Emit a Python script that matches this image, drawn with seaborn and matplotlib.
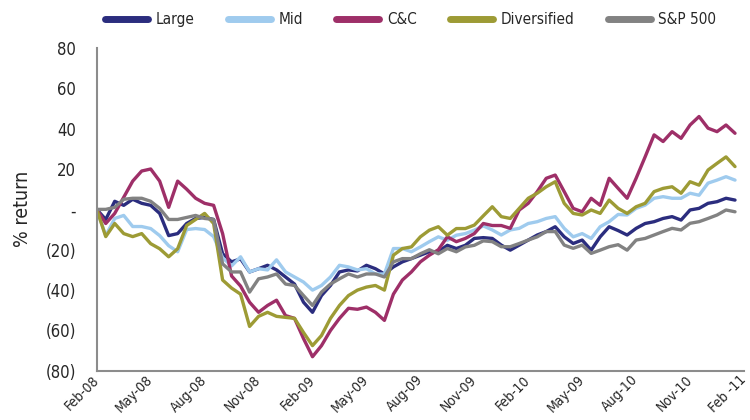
import numpy as np
import pandas as pd
import matplotlib
matplotlib.use("Agg")
import matplotlib.pyplot as plt
import seaborn as sns

# months since Feb-08, half-month steps
months = np.arange(72) * 0.5

large = [0, -5, 4, 2, 5, 3, 2, -2, -13, -12, -7, -4.5, -4, -5,
         -22, -26, -24.5, -31, -29.4, -27.7, -30, -33.5, -37, -46, -51, -42.7,
         -37.7, -31, -30, -30.5, -27.7, -29.4, -32, -28.5, -26, -24.4, -22.7, -21,
         -21, -17.8, -19.4, -17.8, -14.4, -14, -14.4, -17.7, -20.2, -17.7, -15.2, -12.7,
         -11, -8.6, -13.6, -16.9, -15.2, -20.2, -13.6, -8.6, -10.5, -12.7, -9.4, -7,
         -6.1, -4.5, -3.6, -5.3, -0.3, 0.5, 3, 3.8, 5.5, 4.6]
mid = [0, -13, -4.5, -3, -8.5, -8.5, -9.5, -13, -18, -21, -10, -9.5, -10, -13.5,
       -24, -28, -23.5, -31, -29.4, -30, -25, -31, -33.5, -36, -40, -37.7,
       -33.5, -27.7, -28.5, -30, -29.4, -32, -32, -19.4, -19.4, -21, -18.6, -16,
       -13.6, -15.3, -12.8, -12, -10.3, -8.2, -10.2, -12.7, -10.2, -9.4, -7, -6.1,
       -4.5, -3.6, -9.4, -13.6, -12, -14.4, -8.6, -6.1, -2.5, -2.8, 0.5, 2.1,
       5.5, 6.3, 5.5, 5.5, 8, 7, 13, 14.5, 16.2, 14.5]
cc = [0, -7, -2, 6, 14, 19, 20, 14, 1, 14, 10, 5.5, 3, 2,
      -12, -33, -38, -46, -51, -47.6, -45, -52.6, -54, -64, -73, -67.5,
      -60, -54, -49, -49.5, -48.4, -51, -55, -42, -35, -31, -26, -22.7,
      -20, -13.6, -16, -14.4, -12, -7, -8, -8, -9.4, -0.3, 3, 8.8,
      15.4, 17, 8.8, 0.5, -1.2, 5.5, 2, 15.4, 10.4, 5.5, 15.4, 26,
      36.9, 33.6, 38.5, 35.2, 41.8, 46, 40.2, 38.5, 41.8, 37.7]
diversified = [0, -13.5, -7, -12, -13.5, -12, -17, -19.5, -23.5, -19.5, -8, -5, -2, -7,
               -35, -39, -42, -58, -53, -51, -53, -53.5, -54, -61, -67.5, -62.5,
               -54, -47.6, -42.7, -40, -38.5, -37.7, -40, -22.7, -19.4, -18.6, -13.6, -10.3,
               -8.6, -12.8, -9.5, -9.5, -7.8, -3.2, 1.3, -3.6, -4.5, 0.5, 5.5, 8,
               11.2, 13.7, 3, -2, -2.8, -0.3, -2, 4.6, 0.5, -2, 1.3, 3,
               8.8, 10.4, 11.2, 8, 13.7, 12, 19.5, 22.8, 26, 21.2]
sp500 = [0, 0, 1, 5, 5.5, 5.5, 4, 0.5, -5, -5, -4, -3, -4.5, -5,
         -27, -31, -31, -41, -34.4, -33.5, -32, -37, -37.7, -42.7, -47.6, -41,
         -37, -34.4, -32, -33.5, -32, -32, -33.5, -26, -24.4, -24.4, -22, -20,
         -22, -19.4, -21, -18.6, -17.8, -15.6, -16, -18.5, -18.5, -16.9, -15.2, -13.6,
         -11, -11, -17.7, -19.3, -17.7, -21.8, -20.2, -18.5, -17.5, -20.2, -15.2, -14.4,
         -12.7, -11, -9.4, -10.2, -6.9, -6.1, -4.5, -2.8, -0.3, -1.2]

series_names = ["Large", "Mid", "C&C", "Diversified", "S&P 500"]
colors = ["#2B2D7E", "#9FCBEE", "#9E2F68", "#9D9B35", "#828282"]

tick_pos = np.arange(0, 37, 3)
tick_labels = ["Feb-08", "May-08", "Aug-08", "Nov-08", "Feb-09", "May-09", "Aug-09",
               "Nov-09", "Feb-10", "May-09", "Aug-10", "Nov-10", "Feb -11"]
ytick_pos = [80, 60, 40, 20, 0, -20, -40, -60, -80]
ytick_labels = ["80", "60", "40", "20", "-", "(20)", "(40)", "(60)", "(80)"]

df = pd.DataFrame({"month": months, "Large": large, "Mid": mid, "C&C": cc,
                   "Diversified": diversified, "S&P 500": sp500})
long = df.melt(id_vars="month", var_name="series", value_name="ret")

sns.set_style("white")
plt.rcParams["font.family"] = ["DejaVu Sans"]
plt.rcParams["font.stretch"] = "condensed"

fig = plt.figure(figsize=(7.5, 4.2), dpi=100)
ax = fig.add_axes([0.129, 0.117, 0.863, 0.769])
sns.lineplot(data=long, x="month", y="ret", hue="series", hue_order=series_names,
             palette=dict(zip(series_names, colors)), linewidth=2.4, ax=ax)

ax.set_xlim(0, 36)
ax.set_ylim(-80, 80)
ax.set_xticks(tick_pos)
ax.set_xticklabels(tick_labels, rotation=45, ha="right", va="center",
                   rotation_mode="anchor", fontsize=10)
ax.set_yticks(ytick_pos)
ax.set_yticklabels(ytick_labels, fontsize=12)
ax.set_xlabel("")
ax.set_ylabel("% return", fontsize=14)
ax.yaxis.set_label_coords(-0.1, 0.5)

for side in ["top", "right"]:
    ax.spines[side].set_visible(False)
for side in ["left", "bottom"]:
    ax.spines[side].set_color("#8c8c8c")
    ax.spines[side].set_linewidth(1.5)
ax.tick_params(axis="both", length=5, width=1.2, color="#8c8c8c", direction="out")
ax.tick_params(axis="y", pad=10)
ax.tick_params(axis="x", pad=0)

handles, labels = ax.get_legend_handles_labels()
for h in handles:
    h.set_linewidth(5)
    h.set_solid_capstyle("round")
ax.legend(handles, labels, loc="center", bbox_to_anchor=(0.485, 1.087), ncol=5,
          frameon=False, fontsize=11, handlelength=2.8, columnspacing=2.2, handletextpad=0.5)

fig.savefig("out.png", dpi=100)
